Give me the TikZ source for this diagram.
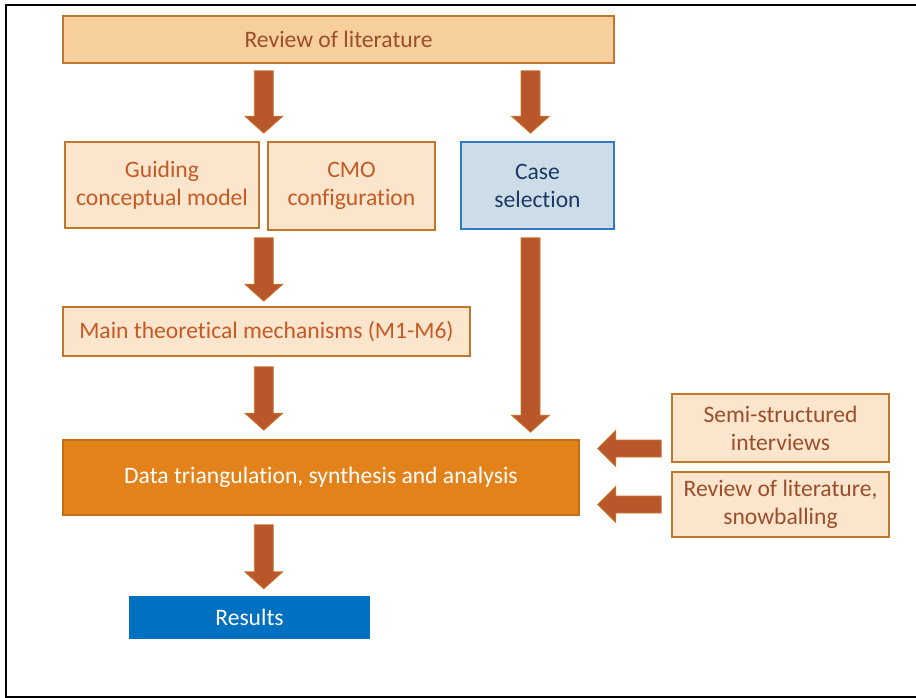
\documentclass[tikz,border=0pt]{standalone}
\usepackage{fontspec}
\setmainfont{Carlito}[Ligatures=NoCommon]
\usetikzlibrary{calc}

\definecolor{topfill}{HTML}{F7CE9E}
\definecolor{palefill}{HTML}{FBE5CC}
\definecolor{boxline}{HTML}{C0762C}
\definecolor{brownText}{HTML}{9C4E2A}
\definecolor{orangeText}{HTML}{C55A24}
\definecolor{casefill}{HTML}{CCDDE8}
\definecolor{caseline}{HTML}{2E7BC4}
\definecolor{navyText}{HTML}{1F3864}
\definecolor{datafill}{HTML}{E3821A}
\definecolor{dataline}{HTML}{C46E18}
\definecolor{resultfill}{HTML}{0070C0}
\definecolor{arrowfill}{HTML}{B9572B}
\definecolor{arrowline}{HTML}{C9782E}

% vertical block arrow: #1 start of the shaft, #2 tip
\newcommand\blockdown[2]{%
  \path[blockarrow] let \p1=#1, \p2=#2 in
    (\x1-9.5pt,\y1) -- (\x1+9.5pt,\y1) -- (\x1+9.5pt,\y2+17pt)
    -- (\x1+19pt,\y2+17pt) -- (\x1,\y2) -- (\x1-19pt,\y2+17pt)
    -- (\x1-9.5pt,\y2+17pt) -- cycle;}
% leftward block arrow: #1 start of the shaft, #2 tip
\newcommand\blockleft[2]{%
  \path[blockarrow] let \p1=#1, \p2=#2 in
    (\x1,\y1+8.5pt) -- (\x1,\y1-8.5pt) -- (\x2+18pt,\y1-8.5pt)
    -- (\x2+18pt,\y1-18pt) -- (\x2,\y1) -- (\x2+18pt,\y1+18pt)
    -- (\x2+18pt,\y1+8.5pt) -- cycle;}

\begin{document}
\begin{tikzpicture}[x=1pt,y=-1pt,
  every node/.style={font=\fontsize{23.6}{28}\selectfont, inner sep=0pt, align=center},
  boxbase/.style={draw, line width=1.6pt, rectangle},
  topbox/.style={boxbase, fill=topfill, draw=boxline, text=brownText},
  palebox/.style={boxbase, fill=palefill, draw=boxline, text=orangeText},
  sidebox/.style={boxbase, fill=palefill, draw=boxline, text=brownText},
  casebox/.style={boxbase, fill=casefill, draw=caseline, text=navyText},
  databox/.style={boxbase, fill=datafill, draw=dataline, text=white},
  resultbox/.style={rectangle, fill=resultfill, text=white},
  blockarrow/.style={fill=arrowfill, draw=arrowline, line width=0.8pt, line join=miter},
]
\useasboundingbox (0,0) rectangle (916,698);

% outer frame (open on the right)
\draw[line width=2.4pt] (916,5) -- (6,5) -- (6,697) -- (916,697);

% boxes
\node[topbox, minimum width=551pt, minimum height=47pt] (rev) at (338.5,39.5) {Review of literature};
\node[palebox, minimum width=194pt, minimum height=86pt] (gcm) at (162,185) {Guiding\\conceptual model};
\node[palebox, minimum width=167pt, minimum height=88pt] (cmo) at (351.5,186) {CMO\\configuration};
\node[casebox, minimum width=153pt, minimum height=87pt] (case) at (537.5,185.5) {Case\\selection};
\node[palebox, minimum width=407pt, minimum height=49pt] (mech) at (266.5,331.5) {Main theoretical mechanisms (M1-M6)};
\node[databox, minimum width=516pt, minimum height=75pt] (data) at (321,477.5) {Data triangulation, synthesis and analysis};
\node[resultbox, minimum width=241pt, minimum height=43pt] (res) at (249.5,617.5) {Results};
\node[sidebox, minimum width=217pt, minimum height=68pt] (semi) at (780.5,428) {Semi-structured\\interviews};
\node[sidebox, minimum width=217pt, minimum height=65pt] (lit) at (780.5,504.5) {Review of literature,\\snowballing};

% block arrows
\blockdown{($(rev.south -| gcm.east)+(4,7)$)}{($(gcm.north east)+(4,-8)$)}
\blockdown{($(rev.south -| case.north)+(-7,7)$)}{($(case.north)+(-7,-8)$)}
\blockdown{($(gcm.south east)+(4,9)$)}{($(mech.north -| gcm.east)+(4,-5)$)}
\blockdown{($(mech.south -| gcm.east)+(4,10)$)}{($(data.north -| gcm.east)+(4,-9)$)}
\blockdown{($(case.south)+(-7,8)$)}{($(data.north -| case.south)+(-7,-7)$)}
\blockdown{($(data.south -| gcm.east)+(4,9)$)}{($(res.north -| gcm.east)+(4,-7)$)}
\blockleft{($(semi.west)+(-10,20.5)$)}{($(data.east |- semi.west)+(18,20.5)$)}
\blockleft{($(lit.west)+(-10,0)$)}{($(data.east |- lit.west)+(18,0)$)}
\end{tikzpicture}
\end{document}
